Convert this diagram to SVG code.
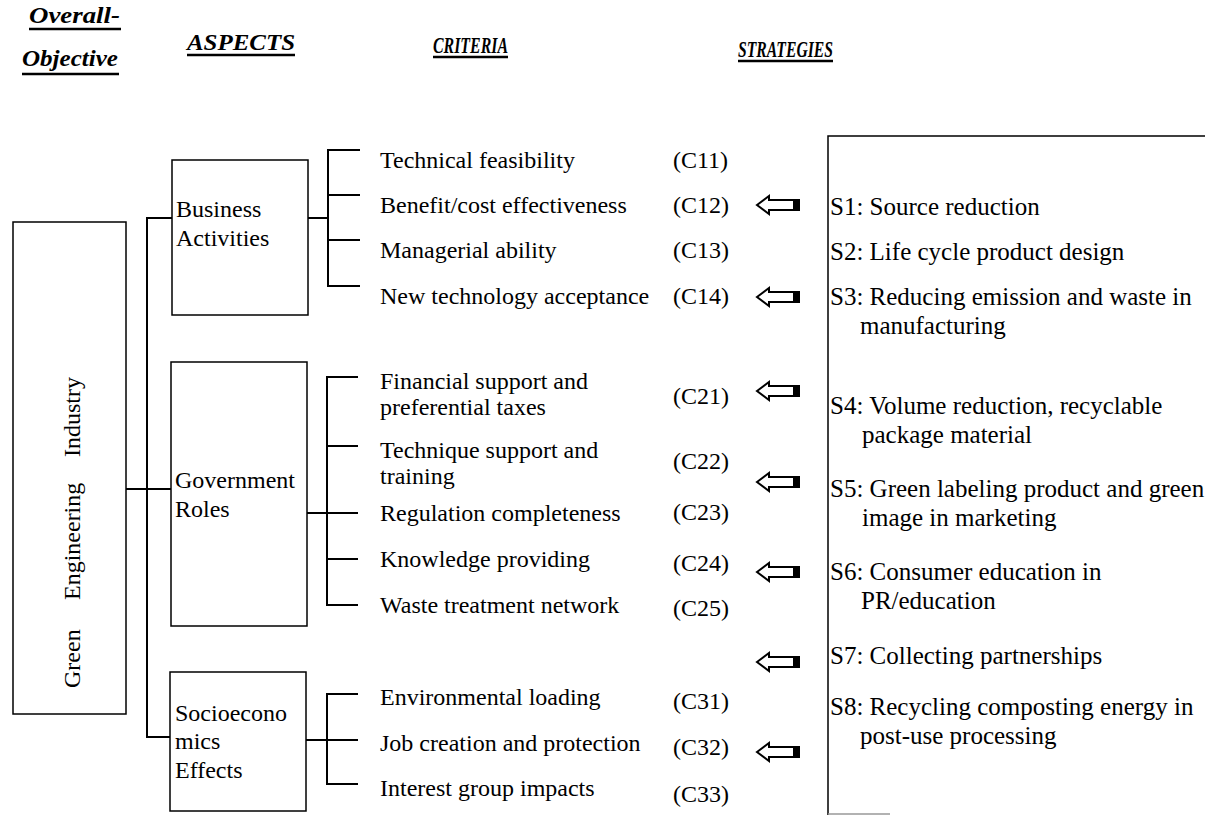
<svg xmlns="http://www.w3.org/2000/svg" width="1205" height="815" viewBox="0 0 1205 815">
  <style>
    .t { font-family: "Liberation Serif", "Times New Roman", serif; font-size: 24px; fill: #000; }
    .s { font-family: "Liberation Serif", "Times New Roman", serif; font-size: 25px; fill: #000; }
    .h { font-family: "Liberation Serif", "Times New Roman", serif; font-size: 24px; font-weight: bold; font-style: italic; fill: #000; }
    .box { fill: #fff; stroke: #000; stroke-width: 1.5; }
    .ln { fill: none; stroke: #000; stroke-width: 2; }
    .ul { stroke: #000; stroke-width: 2.5; }
  </style>
  <defs>
    <!-- hollow left-pointing block arrow with a solid tail cap -->
    <g id="arrow">
      <path d="M0,0 L12,-9 L12,-5 L42,-5 L42,5 L12,5 L12,9 Z" fill="#fff" stroke="#000" stroke-width="2" stroke-linejoin="miter"/>
      <rect x="36" y="-5" width="7" height="10" fill="#000"/>
    </g>
  </defs>
  <rect width="1205" height="815" fill="#fff"/>

  <!-- column headings -->
  <g id="headings">
    <text class="h" x="29" y="23" textLength="91" lengthAdjust="spacingAndGlyphs">Overall-</text>
    <line class="ul" x1="29" y1="29" x2="121" y2="29"/>
    <text class="h" x="22" y="66" textLength="96" lengthAdjust="spacingAndGlyphs">Objective</text>
    <line class="ul" x1="22" y1="74" x2="119" y2="74"/>
    <text class="h" x="187" y="50" textLength="108" lengthAdjust="spacingAndGlyphs">ASPECTS</text>
    <line class="ul" x1="187" y1="55" x2="295" y2="55"/>
    <text class="h" x="433" y="53" textLength="75" lengthAdjust="spacingAndGlyphs">CRITERIA</text>
    <line class="ul" x1="433" y1="57" x2="508" y2="57"/>
    <text class="h" x="738" y="57" textLength="95" lengthAdjust="spacingAndGlyphs">STRATEGIES</text>
    <line class="ul" x1="738" y1="61" x2="833" y2="61"/>
  </g>

  <!-- connectors -->
  <g id="connectors">
    <!-- objective to aspects -->
    <path class="ln" d="M126,489 H171"/>
    <path class="ln" d="M172,218 H147 V737 H170"/>
    <!-- business activities bracket -->
    <path class="ln" d="M308,218 H328"/>
    <path class="ln" d="M360,150 H328 V286 H360"/>
    <path class="ln" d="M328,195 H360 M328,240 H360"/>
    <!-- government roles bracket -->
    <path class="ln" d="M307,513 H358"/>
    <path class="ln" d="M358,377 H327 V605 H358"/>
    <path class="ln" d="M327,446 H358 M327,559 H358"/>
    <!-- socioeconomics bracket -->
    <path class="ln" d="M306,740 H358"/>
    <path class="ln" d="M358,694 H327 V784 H358"/>
    <!-- strategy arrows -->
    <use href="#arrow" x="757" y="205"/>
    <use href="#arrow" x="757" y="297"/>
    <use href="#arrow" x="757" y="391"/>
    <use href="#arrow" x="757" y="482"/>
    <use href="#arrow" x="757" y="572"/>
    <use href="#arrow" x="757" y="662"/>
    <use href="#arrow" x="757" y="752"/>
  </g>

  <!-- overall objective -->
  <g id="objective">
    <rect class="box" x="13" y="222" width="113" height="492"/>
    <text class="t" font-size="25" transform="translate(80,688) rotate(-90)">
      <tspan x="0" y="0">Green</tspan><tspan x="88" y="0">Engineering</tspan><tspan x="231" y="0">Industry</tspan>
    </text>
  </g>

  <!-- aspects -->
  <g id="aspect-business">
    <rect class="box" x="172" y="160" width="136" height="155"/>
    <text class="t" x="176" y="217">Business</text>
    <text class="t" x="176" y="246">Activities</text>
  </g>
  <g id="aspect-government">
    <rect class="box" x="171" y="362" width="136" height="264"/>
    <text class="t" x="175" y="488">Government</text>
    <text class="t" x="175" y="517">Roles</text>
  </g>
  <g id="aspect-socio">
    <rect class="box" x="170" y="672" width="136" height="139"/>
    <text class="t" x="175" y="721">Socioecono</text>
    <text class="t" x="175" y="749">mics</text>
    <text class="t" x="175" y="778">Effects</text>
  </g>

  <!-- criteria -->
  <g id="criteria-business">
    <text class="t" x="380" y="168">Technical feasibility</text><text class="t" x="673" y="168">(C11)</text>
    <text class="t" x="380" y="213">Benefit/cost effectiveness</text><text class="t" x="673" y="213">(C12)</text>
    <text class="t" x="380" y="258">Managerial ability</text><text class="t" x="673" y="258">(C13)</text>
    <text class="t" x="380" y="304">New technology acceptance</text><text class="t" x="673" y="304">(C14)</text>
  </g>
  <g id="criteria-government">
    <text class="t" x="380" y="389">Financial support and</text>
    <text class="t" x="380" y="415">preferential taxes</text><text class="t" x="673" y="404">(C21)</text>
    <text class="t" x="380" y="458">Technique support and</text>
    <text class="t" x="380" y="484">training</text><text class="t" x="673" y="469">(C22)</text>
    <text class="t" x="380" y="521">Regulation completeness</text><text class="t" x="673" y="520">(C23)</text>
    <text class="t" x="380" y="567">Knowledge providing</text><text class="t" x="673" y="571">(C24)</text>
    <text class="t" x="380" y="613">Waste treatment network</text><text class="t" x="673" y="616">(C25)</text>
  </g>
  <g id="criteria-socio">
    <text class="t" x="380" y="705">Environmental loading</text><text class="t" x="673" y="709">(C31)</text>
    <text class="t" x="380" y="751">Job creation and protection</text><text class="t" x="673" y="755">(C32)</text>
    <text class="t" x="380" y="796">Interest group impacts</text><text class="t" x="673" y="802">(C33)</text>
  </g>

  <!-- strategies -->
  <g id="strategies">
    <path d="M1206,136 H828 V815" fill="none" stroke="#000" stroke-width="1.5"/>
    <line x1="828" y1="814" x2="890" y2="814" stroke="#999" stroke-width="1.5"/>
    <text class="s" x="830" y="215">S1: Source reduction</text>
    <text class="s" x="830" y="260">S2: Life cycle product design</text>
    <text class="s" x="830" y="305">S3: Reducing emission and waste in</text>
    <text class="s" x="860" y="334">manufacturing</text>
    <text class="s" x="830" y="414">S4: Volume reduction, recyclable</text>
    <text class="s" x="862" y="443">package material</text>
    <text class="s" x="830" y="497">S5: Green labeling product and green</text>
    <text class="s" x="862" y="526">image in marketing</text>
    <text class="s" x="830" y="580">S6: Consumer education in</text>
    <text class="s" x="861" y="609">PR/education</text>
    <text class="s" x="830" y="664">S7: Collecting partnerships</text>
    <text class="s" x="830" y="715">S8: Recycling composting energy in</text>
    <text class="s" x="860" y="744">post-use processing</text>
  </g>
</svg>
